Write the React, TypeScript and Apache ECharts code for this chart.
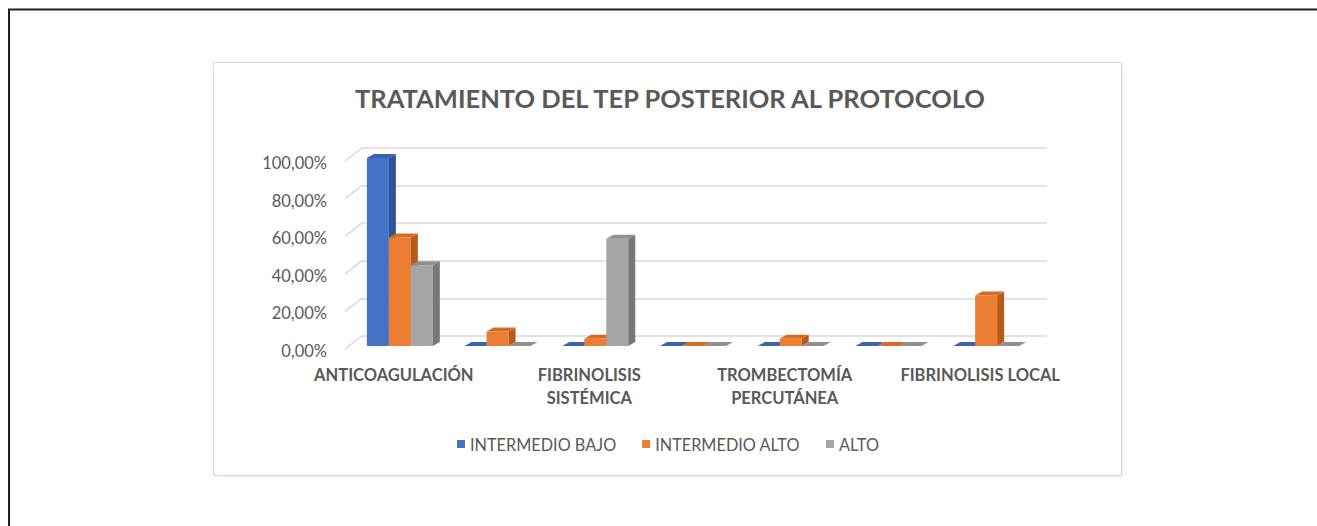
import React, { useEffect, useRef } from "react";
import * as echarts from "echarts";

const CATEGORIES = [
  "ANTICOAGULACIÓN",
  " ",
  "FIBRINOLISIS\nSISTÉMICA",
  "  ",
  "TROMBECTOMÍA\nPERCUTÁNEA",
  "   ",
  "FIBRINOLISIS LOCAL",
];
const SERIES_NAMES = ["INTERMEDIO BAJO", "INTERMEDIO ALTO", "ALTO"];
const INTERMEDIO_BAJO = [100, 0, 0, 0, 0, 0, 0];
const INTERMEDIO_ALTO = [57.7, 7.7, 3.8, 0, 3.8, 0, 26.9];
const ALTO = [42.9, 0, 57.1, 0, 0, 0, 0];
const Y_TICKS = [0, 20, 40, 60, 80, 100];
const TITLE = "TRATAMIENTO DEL TEP POSTERIOR AL PROTOCOLO";

const FRONT = ["#4472C4", "#ED7D31", "#A5A5A5"];
const SIDE = ["#2c5496", "#b85a1b", "#777777"];
const TOP = ["#3963b0", "#d86b24", "#909090"];
const TXT = "#595959";
const FONT = "Lato, 'Open Sans', sans-serif";

export default function App() {
  const ref = useRef<HTMLDivElement>(null);
  useEffect(() => {
    if (!ref.current) return;
    const chart = echarts.init(ref.current, null, { renderer: "svg" });
    const DX = 7;
    const DY = -4;
    const makeBar = (si: number, values: number[]) => ({
      type: "custom",
      name: SERIES_NAMES[si],
      xAxisIndex: 0,
      yAxisIndex: 0,
      itemStyle: { color: FRONT[si] },
      data: values.map((v, i) => [i, v]),
      renderItem: (params: any, api: any) => {
        const cat = api.value(0);
        const val = api.value(1);
        const base = api.coord([cat, 0]);
        const topP = api.coord([cat, val]);
        const band = api.size([1, 0])[0];
        const bw = band * 0.225;
        const x0 = base[0] - 1.5 * bw + si * bw;
        const x1 = x0 + bw;
        const yb = base[1];
        const yt = topP[1];
        const children: any[] = [];
        if (yb - yt > 0.5) {
          children.push({
            type: "rect",
            shape: { x: x0, y: yt, width: bw, height: yb - yt },
            style: { fill: FRONT[si] },
          });
          children.push({
            type: "polygon",
            shape: {
              points: [
                [x1, yt],
                [x1 + DX, yt + DY],
                [x1 + DX, yb + DY],
                [x1, yb],
              ],
            },
            style: { fill: SIDE[si] },
          });
        }
        children.push({
          type: "polygon",
          shape: {
            points: [
              [x0, yt],
              [x0 + DX, yt + DY],
              [x1 + DX, yt + DY],
              [x1, yt],
            ],
          },
          style: { fill: TOP[si] },
        });
        return { type: "group", children };
      },
    });

    const option: any = {
      animation: false,
      backgroundColor: "#ffffff",
      title: {
        text: TITLE,
        left: 350,
        top: 80,
        textStyle: { fontFamily: FONT, fontWeight: "bold", fontSize: 25.5, color: TXT },
      },
      legend: {
        left: 452,
        top: 431,
        icon: "rect",
        itemWidth: 8,
        itemHeight: 8,
        itemGap: 26,
        data: SERIES_NAMES.map((n, i) => ({ name: n, itemStyle: { color: FRONT[i] } })),
        textStyle: { fontFamily: FONT, fontSize: 16.3, color: TXT },
      },
      graphic: [
        {
          type: "rect",
          shape: { x: 213.5, y: 62.5, width: 908, height: 413 },
          style: {
            fill: "#ffffff",
            stroke: "#d9d9d9",
            lineWidth: 1,
            shadowColor: "rgba(0,0,0,0.08)",
            shadowBlur: 3,
            shadowOffsetX: 1,
            shadowOffsetY: 1,
          },
          z: -10,
        },
        {
          type: "polyline",
          shape: { points: [[9, 526], [9, 9.5], [1317, 9.5]] },
          style: { stroke: "#222222", lineWidth: 2, fill: null },
          z: 10,
        },
      ],
      grid: [
        { left: 351, right: 282, top: 158, bottom: 180 },
        { left: 362, right: 270, top: 148, bottom: 190 },
        { left: 345, right: 288, top: 163, bottom: 175 },
      ],
      xAxis: [
        {
          gridIndex: 0,
          type: "category",
          data: CATEGORIES,
          axisLine: { show: false },
          axisTick: { show: false },
          axisLabel: { show: false },
        },
        { gridIndex: 1, type: "value", min: 0, max: 1, show: false },
        {
          gridIndex: 2,
          type: "category",
          data: CATEGORIES,
          axisLine: { show: false },
          axisTick: { show: false },
          axisLabel: {
            interval: 0,
            margin: 12,
            fontFamily: FONT,
            fontWeight: "bold",
            fontSize: 16.5,
            lineHeight: 23,
            color: TXT,
          },
        },
      ],
      yAxis: [
        { gridIndex: 0, type: "value", min: 0, max: 100, interval: 20, show: false },
        {
          gridIndex: 1,
          type: "value",
          min: 0,
          max: 100,
          interval: 20,
          axisLine: { show: false },
          axisTick: { show: false },
          axisLabel: { show: false },
          splitLine: { show: true, lineStyle: { color: "#d9d9d9", width: 1.5 } },
        },
        {
          gridIndex: 2,
          type: "value",
          min: 0,
          max: 100,
          interval: 20,
          axisLine: { show: false },
          axisTick: { show: false },
          splitLine: { show: false },
          axisLabel: {
            margin: 18,
            fontFamily: FONT,
            fontSize: 16.5,
            color: TXT,
            formatter: (v: number) => v.toFixed(2).replace(".", ",") + "%",
          },
        },
      ],
      series: [
        {
          type: "custom",
          xAxisIndex: 1,
          yAxisIndex: 1,
          silent: true,
          data: Y_TICKS.map((t) => [0, t]),
          renderItem: (params: any, api: any) => {
            const p = api.coord([api.value(0), api.value(1)]);
            return {
              type: "line",
              shape: { x1: p[0] - 17, y1: p[1] + 13, x2: p[0], y2: p[1] },
              style: { stroke: "#d9d9d9", lineWidth: 1.5 },
            };
          },
        },
        makeBar(0, INTERMEDIO_BAJO),
        makeBar(1, INTERMEDIO_ALTO),
        makeBar(2, ALTO),
      ],
    };
    chart.setOption(option);
    return () => chart.dispose();
  }, []);
  return (
    <div
      ref={ref}
      style={{ position: "fixed", left: 0, top: 0, width: 1317, height: 526 }}
    />
  );
}
